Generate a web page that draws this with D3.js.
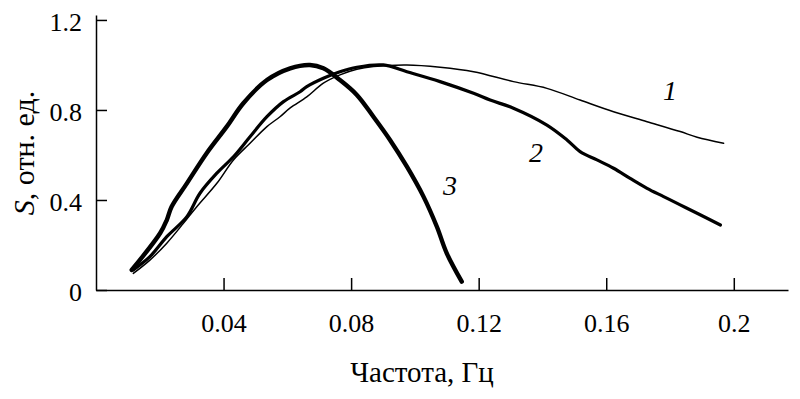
<!DOCTYPE html>
<html>
<head>
<meta charset="utf-8">
<script src="https://cdn.jsdelivr.net/npm/d3@7"></script>
<style>
  body { margin: 0; background: #fff; }
  svg text { font-family: "Times New Roman", "Liberation Serif", Tinos, "DejaVu Serif", serif; }
</style>
</head>
<body>
<script>
// frequency (Hz) and S values, one pair of arrays per curve
var freq1 = [0.0117, 0.0169, 0.0222, 0.0274, 0.0316, 0.0379, 0.0431, 0.0483, 0.0536, 0.0577, 0.0609, 0.0661, 0.0713, 0.0765, 0.0818, 0.0870, 0.0975, 0.1079, 0.1184, 0.1309, 0.1414, 0.1518, 0.1623, 0.1728, 0.1832, 0.1885, 0.1968];
var s1 = [0.074, 0.133, 0.208, 0.296, 0.370, 0.474, 0.578, 0.652, 0.726, 0.770, 0.809, 0.858, 0.919, 0.956, 0.981, 0.993, 1.0, 0.990, 0.970, 0.926, 0.896, 0.844, 0.792, 0.748, 0.704, 0.679, 0.652];

var freq2 = [0.0117, 0.0169, 0.0222, 0.0285, 0.0326, 0.0379, 0.0431, 0.0483, 0.0536, 0.0588, 0.0640, 0.0661, 0.0713, 0.0765, 0.0818, 0.0901, 0.0975, 0.1079, 0.1184, 0.1236, 0.1309, 0.1414, 0.1477, 0.1518, 0.1571, 0.1623, 0.1675, 0.1728, 0.1780, 0.1832, 0.1885, 0.1958];
var s2 = [0.089, 0.148, 0.237, 0.326, 0.430, 0.519, 0.592, 0.681, 0.770, 0.837, 0.881, 0.904, 0.941, 0.970, 0.990, 1.0, 0.970, 0.926, 0.874, 0.844, 0.808, 0.733, 0.667, 0.615, 0.578, 0.541, 0.496, 0.452, 0.415, 0.378, 0.341, 0.289];

var freq3 = [0.0112, 0.0201, 0.0222, 0.0237, 0.0285, 0.0347, 0.0410, 0.0462, 0.0536, 0.0609, 0.0671, 0.0713, 0.0765, 0.0818, 0.0870, 0.0922, 0.0975, 0.1027, 0.1069, 0.1100, 0.1147];
var s3 = [0.089, 0.252, 0.311, 0.370, 0.474, 0.608, 0.726, 0.830, 0.933, 0.985, 1.0, 0.985, 0.933, 0.867, 0.770, 0.667, 0.548, 0.415, 0.281, 0.163, 0.037];

var xTicks = [0.04, 0.08, 0.12, 0.16, 0.2];
var yTicks = [0, 0.4, 0.8, 1.2];

// curve numbers and where they sit (data units)
var curveNames = ['1', '2', '3'];
var nameFreq = [0.180, 0.138, 0.111];
var nameS = [0.844, 0.569, 0.422];

var serif = '"Times New Roman", "Liberation Serif", Tinos, "DejaVu Serif", serif';

var width = 800, height = 399;
var margin = { top: 15, right: 12, bottom: 109, left: 96 };

var svg = d3.select('body').append('svg')
    .attr('width', width)
    .attr('height', height)
    .attr('font-family', serif);

var x = d3.scaleLinear()
    .domain([0, 0.217])
    .range([margin.left, width - margin.right]);

var y = d3.scaleLinear()
    .domain([0, 1.222])
    .range([height - margin.bottom, margin.top]);

var xAxis = d3.axisBottom(x)
    .tickValues(xTicks)
    .tickFormat(d3.format(''))
    .tickSizeInner(-12)
    .tickSizeOuter(0)
    .tickPadding(24);

var yAxis = d3.axisLeft(y)
    .tickValues(yTicks)
    .tickFormat(d3.format(''))
    .tickSizeInner(-11)
    .tickSizeOuter(0)
    .tickPadding(14);

var gx = svg.append('g')
    .attr('transform', translation(0, height - margin.bottom))
    .call(xAxis);

var gy = svg.append('g')
    .attr('transform', translation(margin.left, 0))
    .call(yAxis);

[gx, gy].forEach(function (g) {
    g.attr('font-family', serif).attr('font-size', 26);
    g.selectAll('path, line').attr('stroke', '#000').attr('stroke-width', 1.5);
    g.selectAll('text').attr('fill', '#000');
});
gy.selectAll('text').attr('dy', '0.4em');

// curves
var line = d3.line()
    .x(function (d) { return x(d[0]); })
    .y(function (d) { return y(d[1]); })
    .curve(d3.curveCatmullRom);

var curves = [
    { f: freq1, s: s1, w: 1.5 },
    { f: freq2, s: s2, w: 3.2 },
    { f: freq3, s: s3, w: 4.4 }
];

curves.forEach(function (c) {
    svg.append('path')
        .datum(d3.zip(c.f, c.s))
        .attr('fill', 'none')
        .attr('stroke', '#000')
        .attr('stroke-width', c.w)
        .attr('stroke-linejoin', 'round')
        .attr('stroke-linecap', 'round')
        .attr('d', line);
});

svg.selectAll('.curve-name')
    .data(curveNames)
    .enter().append('text')
    .attr('class', 'curve-name')
    .attr('x', function (d, i) { return x(nameFreq[i]); })
    .attr('y', function (d, i) { return y(nameS[i]); })
    .attr('text-anchor', 'middle')
    .attr('font-style', 'italic')
    .attr('font-size', 28)
    .text(function (d) { return d; });

// axis titles
svg.append('text')
    .attr('x', 422)
    .attr('y', 382)
    .attr('text-anchor', 'middle')
    .attr('font-size', 29)
    .text('Частота, Гц');

var yt = svg.append('text')
    .attr('transform', translation(34, 153) + 'rotate(-90)')
    .attr('text-anchor', 'middle')
    .attr('font-size', 30);
yt.append('tspan').attr('font-style', 'italic').text('S');
yt.append('tspan').text(', отн. ед.');

function translation(x, y) {
    return 'translate(' + x + ',' + y + ')';
}
</script>
</body>
</html>
